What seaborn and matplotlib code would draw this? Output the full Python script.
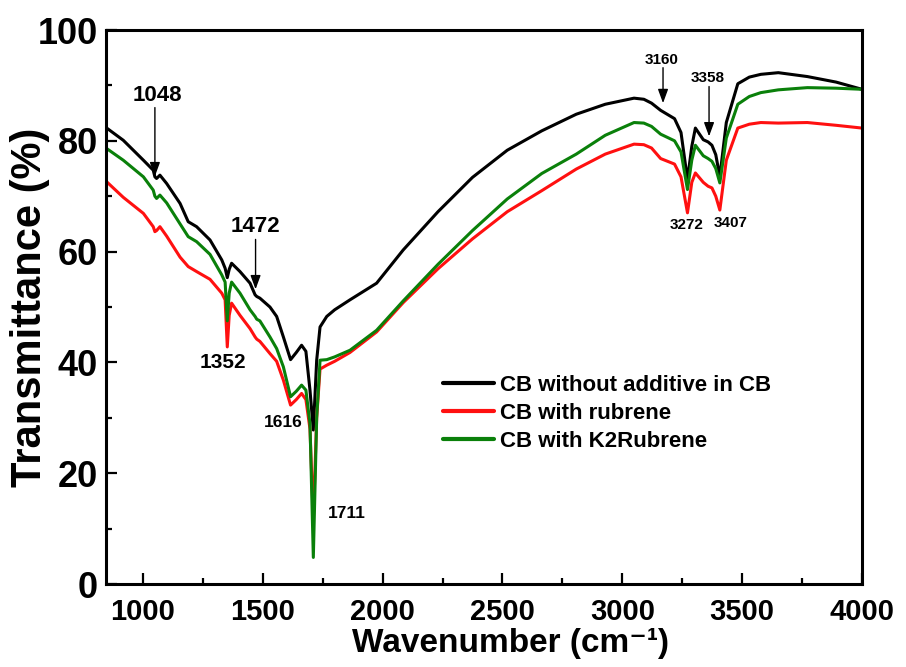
import matplotlib
matplotlib.use("Agg")
import matplotlib.pyplot as plt
from matplotlib.ticker import MultipleLocator
import seaborn as sns
import pandas as pd

# wavenumber grid shared by the three spectra (cm-1)
wavenumber = [849, 918, 1002, 1043, 1050, 1057, 1071, 1099, 1155, 1189, 1224, 1280,
              1329, 1343, 1352, 1360, 1370, 1405, 1447, 1468, 1475, 1488, 1530, 1558,
              1586, 1616, 1640, 1662, 1680, 1697, 1711, 1725, 1739, 1767, 1800, 1864,
              1975, 2086, 2231, 2375, 2520, 2664, 2808, 2929, 3049, 3090, 3122, 3160,
              3218, 3245, 3272, 3290, 3305, 3338, 3358, 3374, 3390, 3407, 3434, 3482,
              3530, 3578, 3651, 3772, 3892, 4000]

t_plain = [82.3, 80.1, 76.5, 74.7, 73.5, 73.2, 73.8, 72.3, 68.7, 65.4, 64.5, 62.1,
           58.5, 57.0, 55.3, 56.8, 57.9, 56.4, 54.3, 52.2, 51.9, 51.6, 50.0, 48.3,
           44.6, 40.5, 41.8, 43.1, 42.0, 35.0, 27.8, 40.4, 46.4, 48.3, 49.5, 51.3,
           54.3, 60.3, 67.2, 73.4, 78.3, 81.8, 84.8, 86.6, 87.7, 87.5, 86.8, 85.5,
           84.0, 81.5, 73.0, 79.0, 82.3, 80.2, 79.8, 79.2, 77.5, 73.5, 83.3, 90.3,
           91.5, 92.0, 92.3, 91.6, 90.6, 89.3]

t_rubrene = [72.6, 69.8, 66.9, 64.5, 63.6, 63.8, 64.5, 62.8, 59.0, 57.3, 56.4, 55.0,
             52.5, 51.3, 42.8, 48.5, 50.7, 48.5, 46.1, 44.6, 44.2, 43.8, 41.6, 40.2,
             36.8, 32.3, 33.3, 34.4, 33.3, 28.0, 11.5, 30.0, 38.8, 39.5, 40.2, 41.8,
             45.5, 50.8, 56.9, 62.3, 67.2, 71.0, 74.9, 77.6, 79.4, 79.3, 78.7, 76.8,
             75.8, 73.5, 67.0, 72.5, 74.2, 72.5, 71.8, 71.5, 70.0, 67.5, 76.5, 82.3,
             83.0, 83.3, 83.2, 83.3, 82.8, 82.3]

t_k2rubrene = [78.6, 76.5, 73.5, 71.1, 70.0, 69.6, 70.2, 68.8, 65.0, 62.7, 61.8, 59.5,
               55.8, 54.5, 47.5, 52.5, 54.5, 52.5, 49.5, 48.3, 47.8, 47.5, 44.6, 42.5,
               39.2, 33.8, 34.8, 35.9, 35.0, 29.0, 4.8, 30.0, 40.4, 40.5, 41.0, 42.2,
               45.8, 51.1, 57.7, 63.8, 69.5, 74.1, 77.6, 81.0, 83.3, 83.2, 82.6, 81.2,
               80.0, 78.0, 71.2, 76.5, 79.2, 77.3, 76.8, 76.3, 75.0, 72.4, 80.5, 86.6,
               88.0, 88.7, 89.2, 89.6, 89.5, 89.3]

labels = ["CB without additive in CB", "CB with rubrene", "CB with K2Rubrene"]
colors = ["#000000", "#ff1010", "#0a800a"]

# peak labels: (text, x, y, size)
peak_text = [("1048", 1059, 88.1, 16), ("1472", 1468, 64.5, 16),
             ("1352", 1333, 39.9, 15), ("1616", 1584, 29.1, 12.5),
             ("1711", 1850, 12.8, 12.5), ("3160", 3164, 94.6, 11),
             ("3358", 3357, 91.3, 11), ("3272", 3270, 64.8, 11),
             ("3407", 3453, 65.2, 11)]
# arrows: (x, y_start, y_tip)
peak_arrows = [(1050, 86.0, 73.6), (1470, 62.2, 53.2), (3170, 93.2, 86.8), (3362, 89.8, 80.8)]

sns.set_style("ticks")
plt.rcParams["font.family"] = ["Liberation Sans", "DejaVu Sans"]
plt.rcParams["font.weight"] = "bold"
for key in ["text.color", "axes.labelcolor", "xtick.color", "ytick.color", "axes.edgecolor"]:
    plt.rcParams[key] = "black"

df = pd.concat([
    pd.DataFrame({"wn": wavenumber, "T": t_plain, "sample": labels[0]}),
    pd.DataFrame({"wn": wavenumber, "T": t_rubrene, "sample": labels[1]}),
    pd.DataFrame({"wn": wavenumber, "T": t_k2rubrene, "sample": labels[2]}),
])

fig, ax = plt.subplots(figsize=(9.06, 6.67), dpi=100)
fig.subplots_adjust(left=0.117, right=0.9514, bottom=0.1244, top=0.955)

sns.lineplot(data=df, x="wn", y="T", hue="sample", palette=dict(zip(labels, colors)),
             linewidth=2.2, sort=False, estimator=None, ax=ax)

ax.set_xlim(846, 4000)
ax.set_ylim(0, 100)
ax.xaxis.set_major_locator(MultipleLocator(500))
ax.xaxis.set_minor_locator(MultipleLocator(250))
ax.yaxis.set_major_locator(MultipleLocator(20))
ax.yaxis.set_minor_locator(MultipleLocator(10))
ax.tick_params(which="both", direction="in", top=False, right=False, width=1.6)
ax.tick_params(which="major", length=8)
ax.tick_params(which="minor", length=4.5)
ax.tick_params(axis="y", labelsize=26, pad=6)
ax.tick_params(axis="x", labelsize=21, pad=10)
for lab in ax.get_xticklabels() + ax.get_yticklabels():
    lab.set_fontweight("bold")
for sp in ax.spines.values():
    sp.set_linewidth(2.2)

ax.set_ylabel("Transmittance (%)", fontsize=30, fontweight="bold")
ax.set_xlabel("Wavenumber (cm\u207b\u00b9)", fontsize=24, fontweight="bold")
ax.yaxis.set_label_coords(-0.074, 0.5)
ax.xaxis.set_label_coords(0.535, -0.079)

for txt, x, y, size in peak_text:
    ax.text(x, y, txt, ha="center", va="center", fontsize=size, fontweight="bold")
for x, y0, y1 in peak_arrows:
    ax.annotate("", xy=(x, y1), xytext=(x, y0),
                arrowprops=dict(arrowstyle="-|>,head_length=0.6,head_width=0.22",
                                color="black", lw=1.0, mutation_scale=14,
                                shrinkA=0, shrinkB=0))

handles, _ = ax.get_legend_handles_labels()
for h in handles:
    h.set_linewidth(3)
ax.legend(handles, labels, loc="upper left", bbox_to_anchor=(0.446, 0.377),
          frameon=False, handlelength=2.3, handletextpad=0.27,
          labelspacing=0.31, borderpad=0, borderaxespad=0,
          prop={"weight": "bold", "size": 16})

fig.savefig("out.png", dpi=100)
